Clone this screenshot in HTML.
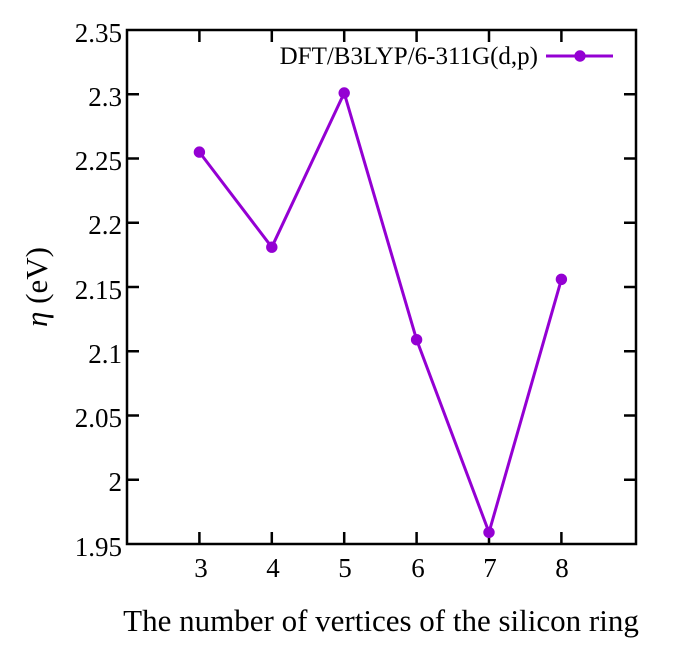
<!DOCTYPE html><html><head><style>body{margin:0;background:#fff}</style></head><body>
<svg width="675" height="640" xmlns="http://www.w3.org/2000/svg" font-family="Liberation Serif, serif">
<rect width="675" height="640" fill="#fff"/>
<g stroke="#000" stroke-width="2.5" fill="none">
<rect x="127" y="30" width="509" height="514"/>
<path d="M127 94.25h12M127 158.5h12M127 222.75h12M127 287h12M127 351.25h12M127 415.5h12M127 479.75h12M636 94.25h-12M636 158.5h-12M636 222.75h-12M636 287h-12M636 351.25h-12M636 415.5h-12M636 479.75h-12M199.4 544v-12M271.8 544v-12M344.2 544v-12M416.6 544v-12M489 544v-12M561.4 544v-12M199.4 30v12M271.8 30v12M344.2 30v12M416.6 30v12M489 30v12M561.4 30v12"/>
</g>
<g font-size="27" text-anchor="end">
<text x="122" y="42">2.35</text><text x="122" y="106">2.3</text><text x="122" y="170">2.25</text><text x="122" y="234">2.2</text><text x="122" y="299">2.15</text><text x="122" y="363">2.1</text><text x="122" y="427">2.05</text><text x="122" y="491">2</text><text x="122" y="556">1.95</text>
</g>
<g font-size="27" text-anchor="middle">
<text x="201" y="577">3</text><text x="273" y="577">4</text><text x="345" y="577">5</text><text x="418" y="577">6</text><text x="490" y="577">7</text><text x="562" y="577">8</text>
<text x="381" y="631" font-size="31">The number of vertices of the silicon ring</text>
<text transform="translate(47,287) rotate(-90)" font-size="31"><tspan font-style="italic">η</tspan> (eV)</text>
</g>
<text x="538" y="64" font-size="25" text-anchor="end">DFT/B3LYP/6-311G(d,p)</text>
<g stroke="#9400d3" stroke-width="3" fill="#9400d3">
<line x1="546" y1="56" x2="613" y2="56"/>
<circle cx="580" cy="56" r="4.2"/>
<polyline fill="none" points="199.4,152.1 271.8,247.2 344.2,93 416.6,339.7 489,532.4 561.4,279.3"/>
<circle cx="199.4" cy="152.1" r="4.2"/><circle cx="271.8" cy="247.2" r="4.2"/><circle cx="344.2" cy="93" r="4.2"/><circle cx="416.6" cy="339.7" r="4.2"/><circle cx="489" cy="532.4" r="4.2"/><circle cx="561.4" cy="279.3" r="4.2"/>
</g>
</svg>
</body></html>
